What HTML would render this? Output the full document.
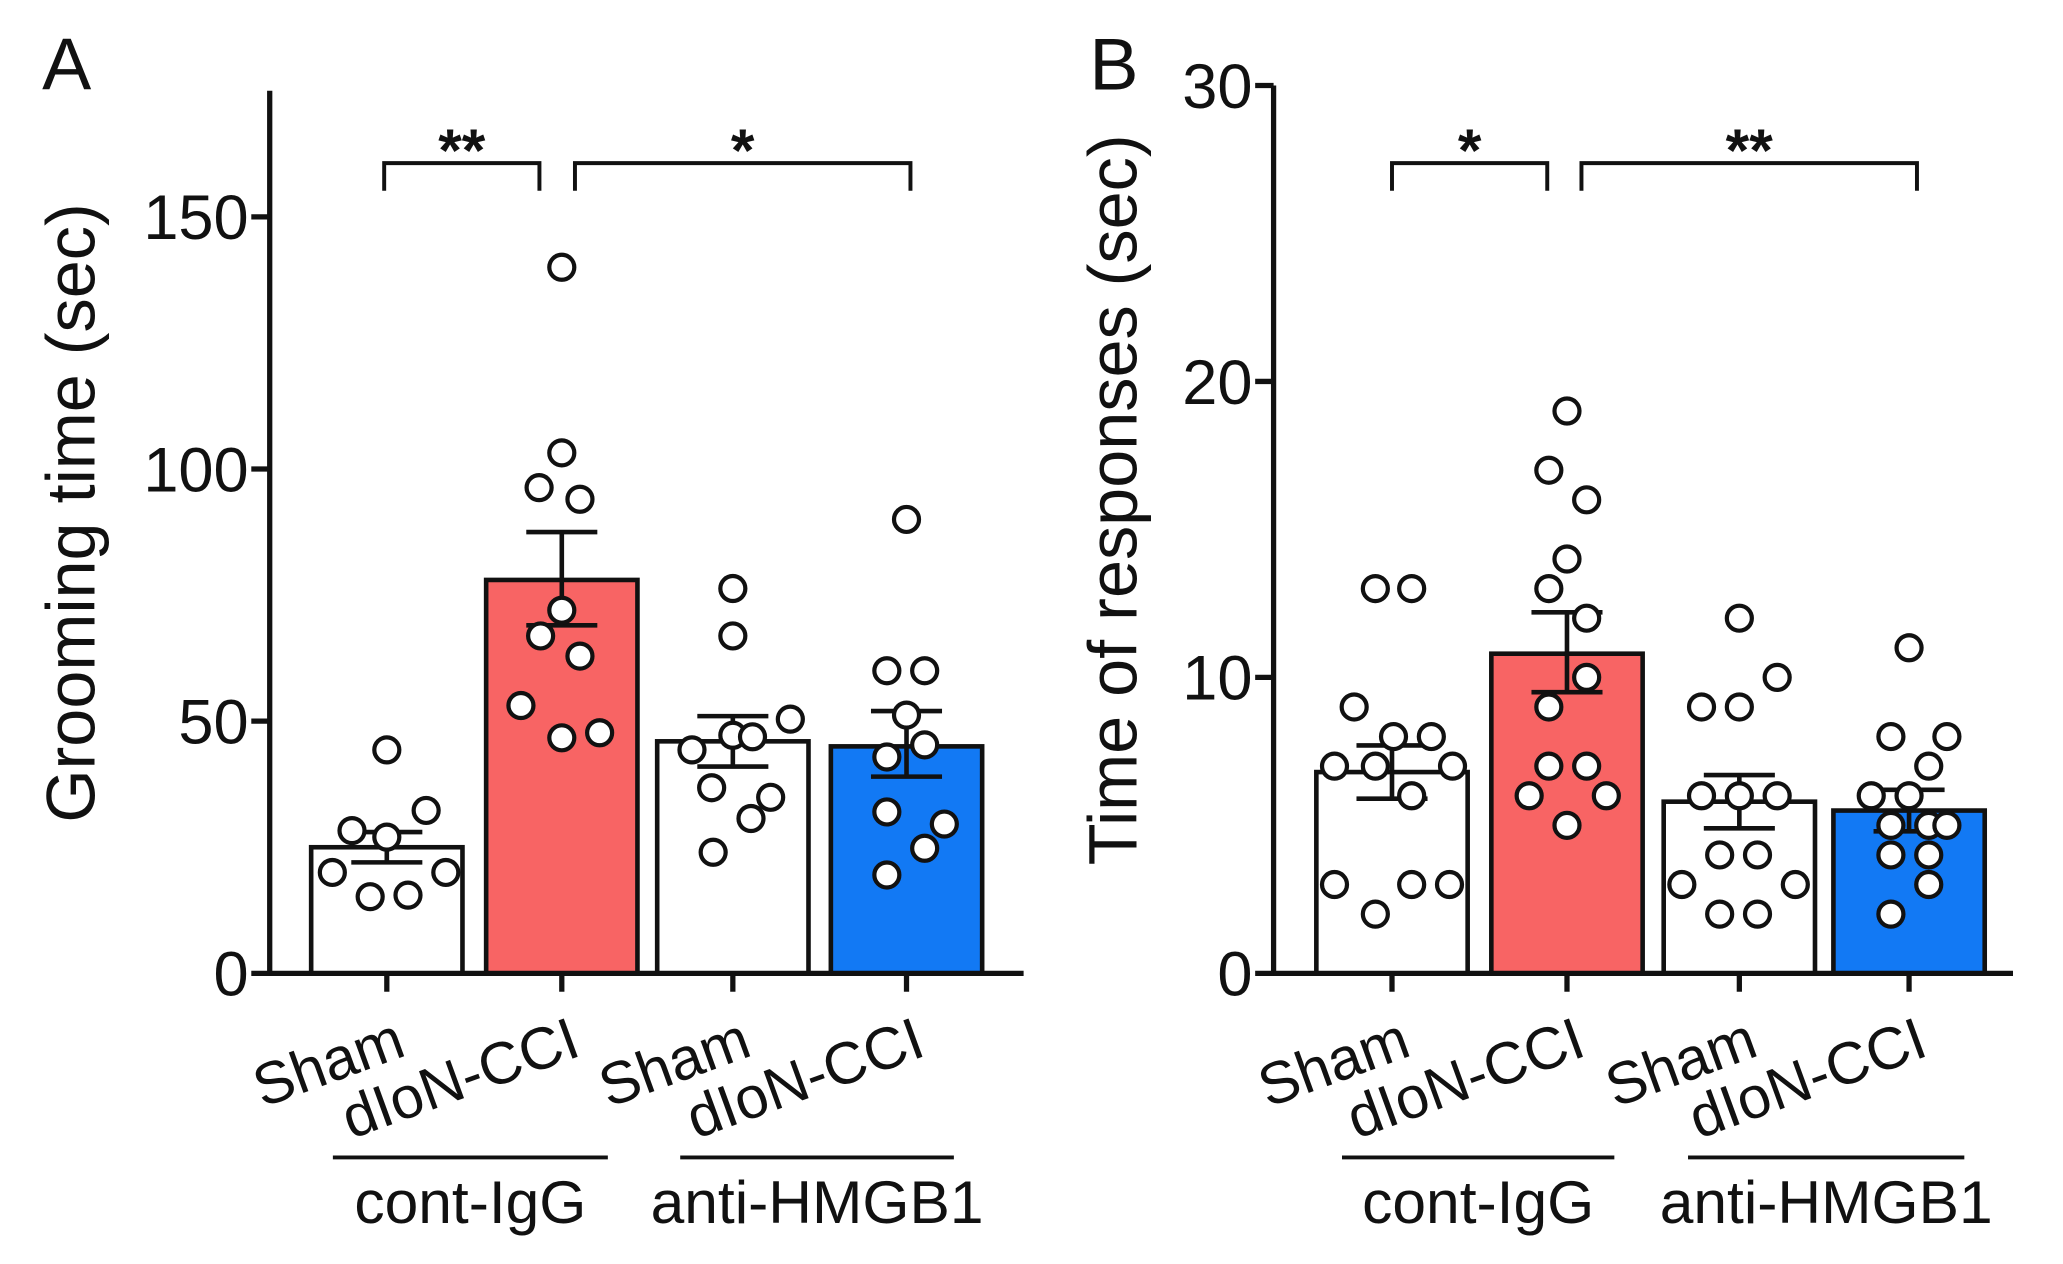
<!DOCTYPE html>
<html><head><meta charset="utf-8"><style>
html,body{margin:0;padding:0;background:#fff}
svg{display:block}
text{font-family:"Liberation Sans",Arial,sans-serif;fill:#111}
</style></head><body>
<svg id="chart" width="2063" height="1264" viewBox="0 0 1568 961" preserveAspectRatio="none" xmlns="http://www.w3.org/2000/svg"></svg>
<script>
const categories = ["Sham","dIoN-CCI","Sham","dIoN-CCI"];
const groupLabels = ["cont-IgG","anti-HMGB1"];
const barColors = ["#ffffff","#f86464","#ffffff","#1279f4"];
// Panel A
const aMeans = [25, 78, 46, 45];
const aSemLow = [22, 69, 41, 39];
const aSemHigh = [28, 87.5, 51, 52];
const aPoints = [
  [44.3,28.3,27,32.3,20,20,15.2,15.5],
  [140,103.2,96.3,94,72,66.9,62.9,53.1,46.7,47.7],
  [76.3,66.9,44.3,47.2,50.4,36.8,34.9,30.7,24,46.9],
  [90,60,60,51.2,42.9,45.3,32,29.6,24.8,19.5]
];
const aJitter = [
  [0,-0.23,0,0.26,-0.36,0.39,-0.11,0.14],
  [0,0,-0.15,0.12,0,-0.14,0.12,-0.27,0,0.25],
  [0,0,-0.27,0,0.38,-0.14,0.25,0.12,-0.13,0.13],
  [0,-0.13,0.12,0,-0.13,0.12,-0.13,0.25,0.12,-0.13]
];
const aTicks = [0,50,100,150];
const aSig = ["**","*"];
// Panel B
const bMeans = [6.8, 10.8, 5.8, 5.5];
const bSemLow = [5.9, 9.5, 4.9, 4.8];
const bSemHigh = [7.7, 12.2, 6.7, 6.2];
const bPoints = [
  [13,13,9,8,8,7,7,7,6,3,3,3,2],
  [19,17,16,14,13,12,10,9,7,7,6,6,5],
  [12,10,9,9,6,6,6,4,4,3,3,2,2],
  [11,8,8,7,6,6,5,5,5,4,4,3,2]
];
const bJitter = [
  [-0.11,0.13,-0.25,0.01,0.26,-0.38,-0.11,0.4,0.13,-0.38,0.13,0.38,-0.11],
  [0,-0.12,0.13,0,-0.12,0.13,0.13,-0.12,-0.12,0.13,-0.25,0.26,0],
  [0,0.25,-0.25,0,-0.25,0,0.25,-0.13,0.12,-0.38,0.37,-0.13,0.12],
  [0,-0.12,0.25,0.13,-0.25,0,-0.12,0.13,0.25,-0.12,0.13,0.13,-0.12]
];
const bTicks = [0,10,20,30];
const bSig = ["*","**"];

const NS="http://www.w3.org/2000/svg";
const svg=document.getElementById('chart');
function mk(tag,attrs,parent,txt){const e=document.createElementNS(NS,tag);for(const k in attrs)e.setAttribute(k,attrs[k]);if(txt!==undefined)e.textContent=txt;(parent||svg).appendChild(e);return e;}

function panel(cfg){
  const g=mk('g',{});
  
  
  const y=v=>cfg.y0-(v/cfg.max)*(cfg.y0-cfg.yTop);
  const bw=115;
  cfg.means.forEach((m,i)=>{
    const cx=cfg.centers[i];
    const r=mk('rect',{x:cx-bw/2,y:y(m),width:bw,height:cfg.y0-y(m),fill:barColors[i],stroke:'#111','stroke-width':3.5},g);
    
    
  });
  cfg.means.forEach((m,i)=>{
    const cx=cfg.centers[i];
    const e=mk('path',{d:`M${cx},${y(cfg.lo[i])}V${y(cfg.hi[i])}M${cx-27},${y(cfg.hi[i])}H${cx+27}M${cx-27},${y(cfg.lo[i])}H${cx+27}`,stroke:'#111','stroke-width':3.5,fill:'none'},g);
    
    
  });
  cfg.points.forEach((arr,i)=>{
    arr.forEach((v,j)=>{
      const c=mk('circle',{cx:cfg.centers[i]+cfg.jitter[i][j]*bw,cy:y(v),r:9.5,fill:'#fff',stroke:'#111','stroke-width':3.2},g);
      
      
    });
  });
  const ax=mk('path',{d:`M${cfg.ax},${cfg.yTop}V${cfg.y0}H${cfg.axEnd}`,stroke:'#111','stroke-width':4,fill:'none'},g);
  
  
  cfg.ticks.forEach(t=>{
    mk('line',{x1:cfg.ax-14,x2:cfg.ax,y1:y(t),y2:y(t),stroke:'#111','stroke-width':4},g);
    const tl=mk('text',{x:cfg.ax-16,y:y(t)+17,'text-anchor':'end','font-size':48},g,t);
    
    
  });
  categories.forEach((c,i)=>{
    const cx=cfg.centers[i];
    mk('line',{x1:cx,x2:cx,y1:cfg.y0,y2:cfg.y0+14,stroke:'#111','stroke-width':4},g);
    const tx=cx+16, ty=cfg.y0+62;
    const t=mk('text',{x:tx,y:ty,'text-anchor':'end','font-size':45,transform:`rotate(-20 ${tx} ${ty})`},g,c);
    
    
  });
  groupLabels.forEach((lab,k)=>{
    const [x1,x2]=cfg.groupLines[k];
    mk('line',{x1:x1,x2:x2,y1:880,y2:880,stroke:'#111','stroke-width':3},g);
    const t=mk('text',{x:(x1+x2)/2,y:930,'text-anchor':'middle','font-size':46},g,lab);
    
    
  });
  cfg.brackets.forEach((b,k)=>{
    const br=mk('path',{d:`M${b[0]},145V124H${b[1]}V145`,stroke:'#111','stroke-width':3,fill:'none'},g);
    
    
    const s=mk('text',{x:(b[0]+b[1])/2,y:130,'text-anchor':'middle','font-size':46,'font-weight':'bold'},g,cfg.sig[k]);
    
    
  });
  const yt=mk('text',{x:cfg.titleX,y:cfg.titleY,'text-anchor':'middle','font-size':52,transform:`rotate(-90 ${cfg.titleX} ${cfg.titleY})`},g,cfg.title);
  
  
  const pl=mk('text',{x:cfg.letterX,y:68,'font-size':56},g,cfg.letter);
  
  
}

panel({name:'panel-a',key:'a',means:aMeans,lo:aSemLow,hi:aSemHigh,points:aPoints,jitter:aJitter,ticks:aTicks,sig:aSig,
  max:175,y0:740,yTop:69,ax:205,axEnd:778,centers:[294,427,557,689],
  groupLines:[[253,462],[517,725]],brackets:[[292,410],[437,692]],
  title:'Grooming time (sec)',titleX:72,titleY:390,letter:'A',letterX:32});
panel({name:'panel-b',key:'b',means:bMeans,lo:bSemLow,hi:bSemHigh,points:bPoints,jitter:bJitter,ticks:bTicks,sig:bSig,
  max:30,y0:740,yTop:65,ax:968,axEnd:1530,centers:[1058,1191,1322,1451],
  groupLines:[[1020,1227],[1283,1493]],brackets:[[1058,1176],[1202,1457]],
  title:'Time of responses (sec)',titleX:864,titleY:380,letter:'B',letterX:828});
</script>
</body></html>
